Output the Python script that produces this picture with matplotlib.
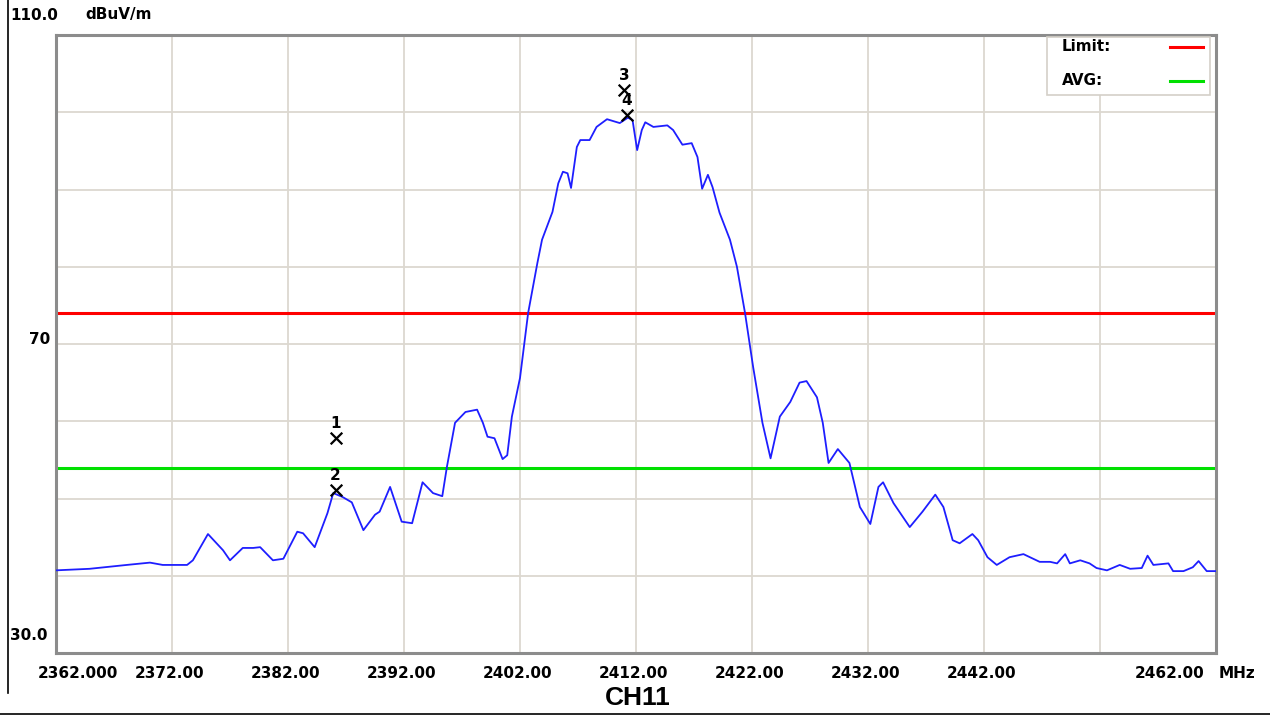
import matplotlib
matplotlib.use('Agg')
import matplotlib.pyplot as plt
import matplotlib.transforms as mtransforms
from matplotlib.lines import Line2D
from matplotlib.patches import Rectangle

# ======== Dados ==========================

freq = [2362.0, 2364.9, 2368.1, 2370.1, 2371.2, 2373.3, 2373.8, 2375.1, 2376.4, 2377.0,
        2378.1, 2379.0, 2379.6, 2380.7, 2381.6, 2382.8, 2383.3, 2384.3, 2385.4, 2385.9,
        2386.7, 2387.5, 2388.5, 2389.5, 2389.9, 2390.8, 2391.8, 2392.7, 2393.6, 2394.5,
        2395.3, 2395.7, 2396.4, 2397.3, 2398.3, 2398.8, 2399.2, 2399.8, 2400.5, 2400.9,
        2401.3, 2402.0, 2402.7, 2403.5, 2403.9, 2404.8, 2405.3, 2405.7, 2406.1, 2406.4,
        2406.9, 2407.2, 2408.0, 2408.6, 2409.5, 2410.6, 2411.3, 2411.7, 2412.1, 2412.5,
        2412.8, 2413.5, 2414.7, 2415.2, 2416.0, 2416.8, 2417.3, 2417.7, 2418.2, 2418.6,
        2419.2, 2420.1, 2420.7, 2421.4, 2422.1, 2422.9, 2423.6, 2424.4, 2425.3, 2426.1,
        2426.7, 2427.6, 2428.1, 2428.6, 2429.4, 2430.4, 2431.3, 2432.2, 2432.9, 2433.3,
        2434.2, 2435.6, 2436.7, 2437.8, 2438.5, 2439.3, 2439.9, 2441.0, 2441.5, 2442.3,
        2443.1, 2444.2, 2445.4, 2446.1, 2446.8, 2447.7, 2448.3, 2449.0, 2449.4, 2450.3,
        2451.1, 2451.7, 2452.6, 2453.7, 2454.6, 2455.6, 2456.1, 2456.6, 2457.9, 2458.3,
        2459.2, 2460.0, 2460.5, 2461.2, 2462.0]
level = [40.7, 40.9, 41.4, 41.7, 41.4, 41.4, 42.0, 45.4, 43.3, 42.0,
         43.6, 43.6, 43.7, 42.0, 42.2, 45.7, 45.5, 43.7, 48.1, 50.7,
         50.2, 49.5, 45.9, 47.9, 48.3, 51.5, 47.0, 46.8, 52.1, 50.7,
         50.3, 54.1, 59.8, 61.2, 61.5, 59.8, 58.0, 57.8, 55.1, 55.6,
         60.6, 65.6, 74.0, 80.5, 83.5, 87.1, 90.8, 92.3, 92.1, 90.2,
         95.5, 96.4, 96.4, 98.1, 99.1, 98.6, 99.3, 99.0, 95.1, 97.7,
         98.7, 98.1, 98.3, 97.7, 95.8, 96.0, 94.2, 90.1, 91.9, 90.3,
         87.0, 83.5, 80.0, 74.0, 67.0, 59.8, 55.2, 60.6, 62.5, 65.0,
         65.2, 63.1, 59.8, 54.6, 56.4, 54.6, 48.9, 46.7, 51.5, 52.1,
         49.4, 46.3, 48.3, 50.5, 48.9, 44.6, 44.2, 45.4, 44.6, 42.4,
         41.4, 42.4, 42.8, 42.3, 41.8, 41.8, 41.6, 42.8, 41.6, 42.0,
         41.6, 41.0, 40.7, 41.4, 40.9, 41.0, 42.6, 41.4, 41.6, 40.6,
         40.6, 41.1, 41.9, 40.6, 40.6]

limite = 74.0
media = 54.0

marcador_freq = [2386.1, 2386.1, 2411.0, 2411.2]
marcador_nivel = [57.8, 51.1, 102.9, 99.6]
marcador_nome = ['1', '2', '3', '4']

x_ticks = [2362, 2372, 2382, 2392, 2402, 2412, 2422, 2432, 2442, 2452, 2462]
x_rotulos = ['2362.000', '2372.00', '2382.00', '2392.00', '2402.00', '2412.00',
             '2422.00', '2432.00', '2442.00', '', '2462.00']
y_ticks = [30, 40, 50, 60, 70, 80, 90, 100, 110]

# ======== Figura =========

fig = plt.figure(figsize=(12.7, 7.16), dpi=100)
ax = fig.add_axes([56 / 1270, 1 - 653 / 716, 1160 / 1270, 618 / 716])

cor_grade = '#dcd8d0'
for xv in x_ticks[1:-1]:
    ax.axvline(xv, color=cor_grade, linewidth=1.3, zorder=1)
for yv in y_ticks[1:-1]:
    ax.axhline(yv, color=cor_grade, linewidth=1.3, zorder=1)

ax.axhline(limite, color='#ff0000', linewidth=2.2, zorder=2)
ax.axhline(media, color='#00e000', linewidth=2.2, zorder=2)

ax.plot(freq, level, color='#1e1eff', linewidth=1.3, zorder=3)

ax.scatter(marcador_freq, marcador_nivel, marker='x', s=70, color='black',
           linewidths=1.6, zorder=4)
for f, n, nome in zip(marcador_freq, marcador_nivel, marcador_nome):
    ax.annotate(nome, (f, n), xytext=(0, 5), textcoords='offset points',
                ha='center', va='bottom', fontsize=11, fontweight='bold',
                color='black', zorder=5)

ax.set_xlim(x_ticks[0], x_ticks[-1])
ax.set_ylim(y_ticks[0], y_ticks[-1])
ax.set_xticks([])
ax.set_yticks([])
for lado in ax.spines.values():
    lado.set_color('#8c8c8c')
    lado.set_linewidth(2.2)

# rótulos do eixo X
trans_x = mtransforms.blended_transform_factory(ax.transData, ax.transAxes)
fonte = dict(fontsize=11, fontweight='bold', color='black', family='DejaVu Sans')
for xv, rot in zip(x_ticks, x_rotulos):
    if not rot:
        continue
    if xv == x_ticks[0]:
        ax.annotate(rot, (xv, 0), xycoords=trans_x, xytext=(-13, -9),
                    textcoords='offset points', ha='left', va='top', **fonte)
    elif xv == x_ticks[-1]:
        ax.annotate(rot, (xv, 0), xycoords=trans_x, xytext=(-8, -9),
                    textcoords='offset points', ha='right', va='top', **fonte)
    else:
        ax.annotate(rot, (xv, 0), xycoords=trans_x, xytext=(-2, -9),
                    textcoords='offset points', ha='center', va='top', **fonte)
ax.annotate('MHz', (x_ticks[-1], 0), xycoords=trans_x, xytext=(2, -9),
            textcoords='offset points', ha='left', va='top', **fonte)

# rótulos do eixo Y
fig.text(10 / 1270, 1 - 15 / 716, '110.0', ha='left', va='center', **fonte)
fig.text(85 / 1270, 1 - 15 / 716, 'dBuV/m', ha='left', va='center', **fonte)
fig.text(50 / 1270, 1 - 340 / 716, '70', ha='right', va='center', **fonte)
fig.text(10 / 1270, 1 - 635 / 716, '30.0', ha='left', va='center', **fonte)

# legenda desenhada à mão
ax.add_patch(Rectangle((0.854, 0.903), 0.141, 0.094, transform=ax.transAxes,
                       facecolor='white', edgecolor='#d4d0c8', linewidth=1.2, zorder=6))
ax.text(0.867, 0.981, 'Limit:', transform=ax.transAxes, ha='left', va='center',
        zorder=7, **fonte)
ax.text(0.867, 0.926, 'AVG:', transform=ax.transAxes, ha='left', va='center',
        zorder=7, **fonte)
ax.add_line(Line2D([0.960, 0.989], [0.981, 0.981], transform=ax.transAxes,
                   color='#ff0000', linewidth=2.2, zorder=7))
ax.add_line(Line2D([0.960, 0.989], [0.926, 0.926], transform=ax.transAxes,
                   color='#00e000', linewidth=2.2, zorder=7))

# título inferior e moldura
fig.text(638 / 1270, 1 - 698 / 716, 'CH11', ha='center', va='center',
         fontsize=19, fontweight='bold', family='Liberation Sans')
fig.add_artist(Line2D([8 / 1270, 8 / 1270], [1, 1 - 693 / 716],
                      transform=fig.transFigure, color='black', linewidth=1.2))
fig.add_artist(Line2D([0, 1], [1 - 714 / 716, 1 - 714 / 716],
                      transform=fig.transFigure, color='black', linewidth=1.2))

fig.savefig('out.png', dpi=100, facecolor='white')
